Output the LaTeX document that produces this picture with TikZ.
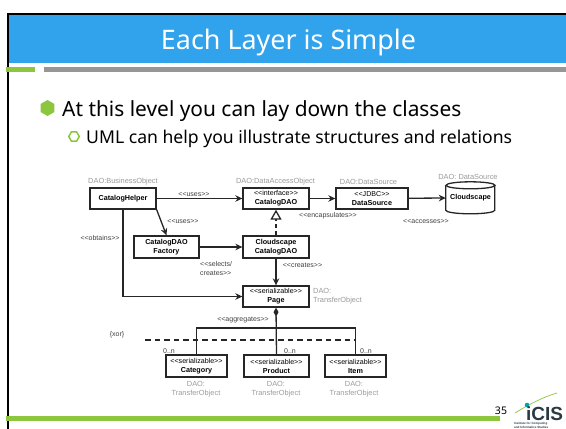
\documentclass[tikz,border=0pt]{standalone}
\usepackage{fontspec}
\setmainfont{Noto Sans}
\newfontfamily\umlfont{Liberation Sans}
\usetikzlibrary{arrows.meta,shapes.geometric}
\definecolor{slideblue}{HTML}{31A2EC}
\definecolor{slidegreen}{HTML}{8CC63F}
\definecolor{slidegrey}{HTML}{969696}
\definecolor{umlgrey}{HTML}{9A9A9A}
\definecolor{logodark}{HTML}{2B3A42}
\tikzset{
  x=1pt,y=-1pt,
  classbox/.style={draw=black!85,line width=1.3pt,fill=white,align=center,inner sep=0pt,font=\umlfont\fontsize{7.2}{9}\selectfont},
  umllabel/.style={inner sep=0pt,align=left,font=\umlfont\fontsize{7}{9}\selectfont,text=black!75},
  greylabel/.style={inner sep=0pt,align=center,font=\umlfont\fontsize{7.4}{9}\selectfont,text=umlgrey},
  link/.style={draw=black!85,line width=1.3pt,-{Stealth[length=7pt,width=6.5pt]}},
  plainlink/.style={draw=black!85,line width=1.3pt},
}
\newcommand{\stereo}[2]{{\fontsize{7.1}{9}\selectfont #1}\\\textbf{#2}}
\begin{document}
\begin{tikzpicture}
\useasboundingbox (0,0) rectangle (566,429);
% slide frame
\fill[slideblue] (8,14) rectangle (566,63);
\draw[black,line width=2pt] (7.5,429) -- (7.5,13.5) -- (566,13.5);
\fill[slidegreen] (6,67) rectangle (35,72);
\fill[slidegrey] (44,67) rectangle (566,72);
\fill[slidegreen] (6,416) rectangle (500,421);
% texts
\node[anchor=base,text=white,inner sep=0pt,font=\fontsize{26.9}{30}\selectfont] (title) at (288.5,49) {Each Layer is Simple};
\node[regular polygon,regular polygon sides=6,shape border rotate=30,fill=slidegreen,minimum size=16pt,inner sep=0pt] (bull) at (47.5,108) {};
\node[anchor=base west,inner sep=0pt,font=\fontsize{20.9}{24}\selectfont] (line1) at (62,116.5) {At this level you can lay down the classes};
\node[regular polygon,regular polygon sides=6,draw=slidegreen,line width=1.5pt,minimum size=10.5pt,inner sep=0pt] (subbull) at (74,136.5) {};
\node[anchor=base west,inner sep=0pt,font=\fontsize{17.6}{20}\selectfont] (line2) at (86,143) {UML can help you illustrate structures and relations};
% classes
\node[classbox,minimum width=66pt,minimum height=21pt] (helper) at (123,198.5) {\textbf{CatalogHelper}};
\node[classbox,minimum width=66pt,minimum height=21pt] (dao) at (276,198.5) {\stereo{<{}<interface>{}>}{CatalogDAO}};
\node[classbox,minimum width=72pt,minimum height=21pt] (ds) at (372,198.5) {\stereo{<{}<JDBC>{}>}{DataSource}};
\node[inner sep=0pt,minimum width=49pt,minimum height=32pt,font=\umlfont\bfseries\fontsize{7.2}{9}\selectfont] (cloud) at (470.5,198) {Cloudscape};
\draw[plainlink] (cloud.north west) ++(0,3.5) -- ++(0,25) arc[start angle=180,end angle=360,x radius=24.5,y radius=-3.5] -- ++(0,-25);
\draw[plainlink] (cloud.north) ++(0,3.5) ellipse[x radius=24.5,y radius=3.5];
\node[classbox,minimum width=65pt,minimum height=22pt] (factory) at (166.5,247) {\textbf{CatalogDAO}\\\textbf{Factory}};
\node[classbox,minimum width=66pt,minimum height=22pt] (cdao) at (276,247) {\textbf{Cloudscape}\\\textbf{CatalogDAO}};
\node[classbox,minimum width=66pt,minimum height=21pt] (page) at (276,296.5) {\stereo{<{}<serializable>{}>}{Page}};
\node[classbox,minimum width=61pt,minimum height=22pt] (cat) at (196.5,366) {\stereo{<{}<serializable>{}>}{Category}};
\node[classbox,minimum width=65pt,minimum height=22pt] (prod) at (276.5,366) {\stereo{<{}<serializable>{}>}{Product}};
\node[classbox,minimum width=61pt,minimum height=22pt] (item) at (355.5,366) {\stereo{<{}<serializable>{}>}{Item}};
% connectors
\draw[link] (helper) -- (dao);
\draw[link] (helper.south east) -- (factory.north);
\draw[link] (helper.south) |- (page.west);
\draw[link] (factory) -- (cdao);
\draw[link] (dao) -- (ds);
\draw[link] (ds) -- (cloud.west);
\draw[link] (cdao) -- (page);
\draw[plainlink,dash pattern=on 4pt off 3pt,-{Triangle[open,length=10pt,width=11pt,fill=white]}] (cdao.north) -- (dao.south);
\coordinate (busc) at (276,328);
\draw[plainlink,{Diamond[length=9pt,width=5pt]}-] (page.south) -- (prod.north);
\draw[plainlink] (cat.north) |- (busc) -| (item.north);
\coordinate (xorl) at (145,340);
\coordinate (xorr) at (355,340);
\draw[plainlink,dash pattern=on 5.5pt off 4pt] (xorl) -- (xorr);
% connector labels
\node[umllabel] (l1) at (194,194) {<{}<uses>{}>};
\node[umllabel] (l2) at (183,221.5) {<{}<uses>{}>};
\node[umllabel] (l3) at (100,238) {<{}<obtains>{}>};
\node[umllabel,anchor=north west] (l4) at (200,261) {<{}<selects/\\creates>{}>};
\node[umllabel] (l5) at (302.5,265) {<{}<creates>{}>};
\node[umllabel] (l6) at (328,215.5) {<{}<encapsulates>{}>};
\node[umllabel] (l7) at (426,221.5) {<{}<accesses>{}>};
\node[umllabel] (l8) at (243,320) {<{}<aggregates>{}>};
\node[umllabel] (l9) at (117,335) {\{xor\}};
\node[umllabel] (m1) at (169,351) {0..n};
\node[umllabel] (m2) at (290,351) {0..n};
\node[umllabel] (m3) at (366,351) {0..n};
% owner labels
\node[greylabel] (g1) at (123,182) {DAO:BusinessObject};
\node[greylabel] (g2) at (275.5,182) {DAO:DataAccessObject};
\node[greylabel] (g3) at (368.5,182) {DAO:DataSource};
\node[greylabel] (g4) at (468,177) {DAO: DataSource};
\node[greylabel,align=left,anchor=west] (g5) at (313,296.5) {DAO:\\TransferObject};
\node[greylabel] (g6) at (196,389.5) {DAO:\\TransferObject};
\node[greylabel] (g7) at (276,389.5) {DAO:\\TransferObject};
\node[greylabel] (g8) at (354,389.5) {DAO:\\TransferObject};
% page number and logo
\node[anchor=base,inner sep=0pt,font=\fontsize{10.5}{12}\selectfont] (num) at (501,414) {35};
\draw[slidegreen,line width=.7pt] (515,413) .. controls (528,405) and (543,397) .. (557,393);
\fill[teal!70!cyan] (527,405) circle (2.3);
\node[anchor=base west,inner sep=0pt,text=logodark,font=\umlfont\bfseries\fontsize{19}{21}\selectfont] (logo) at (526,420) {iCIS};
\node[anchor=north west,inner sep=0pt,align=left,text=logodark,font=\umlfont\bfseries\fontsize{3}{3.2}\selectfont] (logotext) at (514,422.5) {Institute for Computing\\and Informatics Studies};
\end{tikzpicture}
\end{document}
